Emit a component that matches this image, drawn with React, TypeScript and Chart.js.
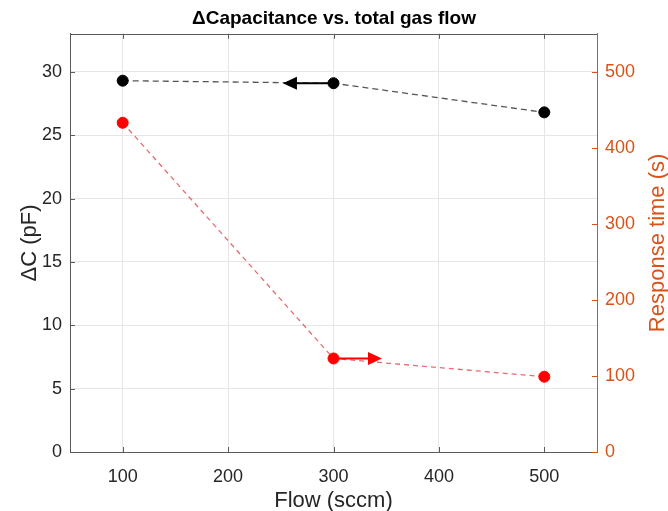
import React, { useEffect, useRef } from "react";
import { Chart, registerables } from "chart.js";

Chart.register(...registerables);

const flow = [100, 300, 500];
const deltaC = [29.3, 29.1, 26.8];
const responseTime = [433, 123, 99];

const xTicks = [100, 200, 300, 400, 500];
const leftTicks = [0, 5, 10, 15, 20, 25, 30];
const rightTicks = [0, 100, 200, 300, 400, 500];

// arrows: [fromX, toX, y value, axis id]
const arrowFromX = [300, 300];
const arrowToX = [252, 346];
const arrowY = [29.1, 123];
const arrowAxis = ["y", "y1"];
const arrowColor = ["#000000", "#ff0000"];

const titleText = "\u0394Capacitance vs. total gas flow";
const xTitle = "Flow (sccm)";
const leftTitle = "\u0394C (pF)";
const rightTitle = "Response time (s)";

const ORANGE = "#D95319";
const AXIS = "#5a5a5a";
const FONT = "'Liberation Sans', Arial, Helvetica, sans-serif";

const decorPlugin = {
  id: "matlabDecor",
  afterDatasetsDraw(chart: any) {
    const { ctx, scales } = chart;
    ctx.save();
    for (let i = 0; i < arrowFromX.length; i++) {
      const ys = scales[arrowAxis[i]];
      const x0 = scales.x.getPixelForValue(arrowFromX[i]);
      const x1 = scales.x.getPixelForValue(arrowToX[i]);
      const y = ys.getPixelForValue(arrowY[i]);
      const dir = x1 > x0 ? 1 : -1;
      const headLen = 14;
      const headHalf = 6.5;
      ctx.strokeStyle = arrowColor[i];
      ctx.fillStyle = arrowColor[i];
      ctx.lineWidth = 2;
      ctx.setLineDash([]);
      ctx.beginPath();
      ctx.moveTo(x0, y);
      ctx.lineTo(x1 - dir * headLen, y);
      ctx.stroke();
      ctx.beginPath();
      ctx.moveTo(x1, y);
      ctx.lineTo(x1 - dir * headLen, y - headHalf);
      ctx.lineTo(x1 - dir * headLen, y + headHalf);
      ctx.closePath();
      ctx.fill();
    }
    ctx.restore();
  },
  afterDraw(chart: any) {
    const { ctx, chartArea, scales } = chart;
    const { left, right, top, bottom } = chartArea;
    const tl = 5;
    ctx.save();
    ctx.lineWidth = 1;
    ctx.setLineDash([]);
    ctx.strokeStyle = AXIS;
    ctx.beginPath();
    ctx.moveTo(left, Math.round(top) + 0.5);
    ctx.lineTo(right, Math.round(top) + 0.5);
    ctx.stroke();
    ctx.beginPath();
    for (const v of xTicks) {
      const px = Math.round(scales.x.getPixelForValue(v)) + 0.5;
      ctx.moveTo(px, bottom);
      ctx.lineTo(px, bottom - tl);
      ctx.moveTo(px, top);
      ctx.lineTo(px, top + tl);
    }
    for (const v of leftTicks) {
      const py = Math.round(scales.y.getPixelForValue(v)) + 0.5;
      ctx.moveTo(left, py);
      ctx.lineTo(left + tl, py);
    }
    ctx.stroke();
    ctx.strokeStyle = ORANGE;
    ctx.beginPath();
    for (const v of rightTicks) {
      const py = Math.round(scales.y1.getPixelForValue(v)) + 0.5;
      ctx.moveTo(right, py);
      ctx.lineTo(right - tl, py);
    }
    ctx.stroke();
    ctx.translate(658, (top + bottom) / 2);
    ctx.rotate(-Math.PI / 2);
    ctx.font = `22px ${FONT}`;
    ctx.fillStyle = ORANGE;
    ctx.textAlign = "center";
    ctx.textBaseline = "middle";
    ctx.fillText(rightTitle, 0, 0);
    ctx.restore();
  },
};

export default function App() {
  const ref = useRef<HTMLCanvasElement>(null);
  useEffect(() => {
    if (!ref.current) return;
    Chart.defaults.font.family = FONT;
    const chart = new Chart(ref.current, {
      type: "line",
      data: {
        datasets: [
          {
            label: "dC",
            data: flow.map((x, i) => ({ x, y: deltaC[i] })),
            yAxisID: "y",
            borderColor: "#555555",
            borderWidth: 1.3,
            borderDash: [6, 4],
            pointRadius: 5.5,
            pointBorderWidth: 1,
            pointBackgroundColor: "#000000",
            pointBorderColor: "#000000",
            tension: 0,
          },
          {
            label: "rt",
            data: flow.map((x, i) => ({ x, y: responseTime[i] })),
            yAxisID: "y1",
            borderColor: "#e86a72",
            borderWidth: 1.3,
            borderDash: [5, 4],
            pointRadius: 5.5,
            pointBorderWidth: 1,
            pointBackgroundColor: "#ff0000",
            pointBorderColor: "#ff0000",
            tension: 0,
          },
        ],
      },
      options: {
        animation: false,
        responsive: false,
        maintainAspectRatio: false,
        layout: { padding: 0 },
        plugins: {
          legend: { display: false },
          tooltip: { enabled: false },
          title: {
            display: true,
            text: titleText,
            color: "#000000",
            font: { size: 19, weight: "bold", family: FONT },
            padding: { top: 7, bottom: 4 },
          },
        },
        scales: {
          x: {
            type: "linear",
            min: 50,
            max: 550,
            afterBuildTicks: (s: any) => {
              s.ticks = xTicks.map((v) => ({ value: v }));
            },
            afterFit: (s: any) => {
              s.height = 59;
            },
            grid: { color: "#e6e6e6", drawTicks: false },
            border: { color: AXIS, width: 1 },
            ticks: { color: "#262626", font: { size: 18 }, padding: 14, maxRotation: 0 },
            title: {
              display: true,
              text: xTitle,
              color: "#262626",
              font: { size: 22 },
              padding: { top: 0, bottom: -3 },
            },
          },
          y: {
            type: "linear",
            position: "left",
            min: 0,
            max: 33,
            afterBuildTicks: (s: any) => {
              s.ticks = leftTicks.map((v) => ({ value: v }));
            },
            afterFit: (s: any) => {
              s.width = 70;
            },
            grid: { color: "#e6e6e6", drawTicks: false },
            border: { color: AXIS, width: 1 },
            ticks: { color: "#262626", font: { size: 18 }, padding: 8 },
            title: {
              display: true,
              text: leftTitle,
              color: "#262626",
              font: { size: 22 },
              padding: { top: 17, bottom: 0 },
            },
          },
          y1: {
            type: "linear",
            position: "right",
            min: 0,
            max: 550,
            afterBuildTicks: (s: any) => {
              s.ticks = rightTicks.map((v) => ({ value: v }));
            },
            afterFit: (s: any) => {
              s.width = 71;
            },
            grid: { drawOnChartArea: false, drawTicks: false },
            border: { color: ORANGE, width: 1 },
            ticks: { color: ORANGE, font: { size: 18 }, padding: 8 },
          },
        },
      },
      plugins: [decorPlugin],
    } as any);
    return () => chart.destroy();
  }, []);
  return (
    <div style={{ position: "absolute", left: 0, top: 0, width: 668, height: 511, background: "#fff" }}>
      <canvas ref={ref} width={668} height={511} style={{ width: 668, height: 511 }} />
    </div>
  );
}
